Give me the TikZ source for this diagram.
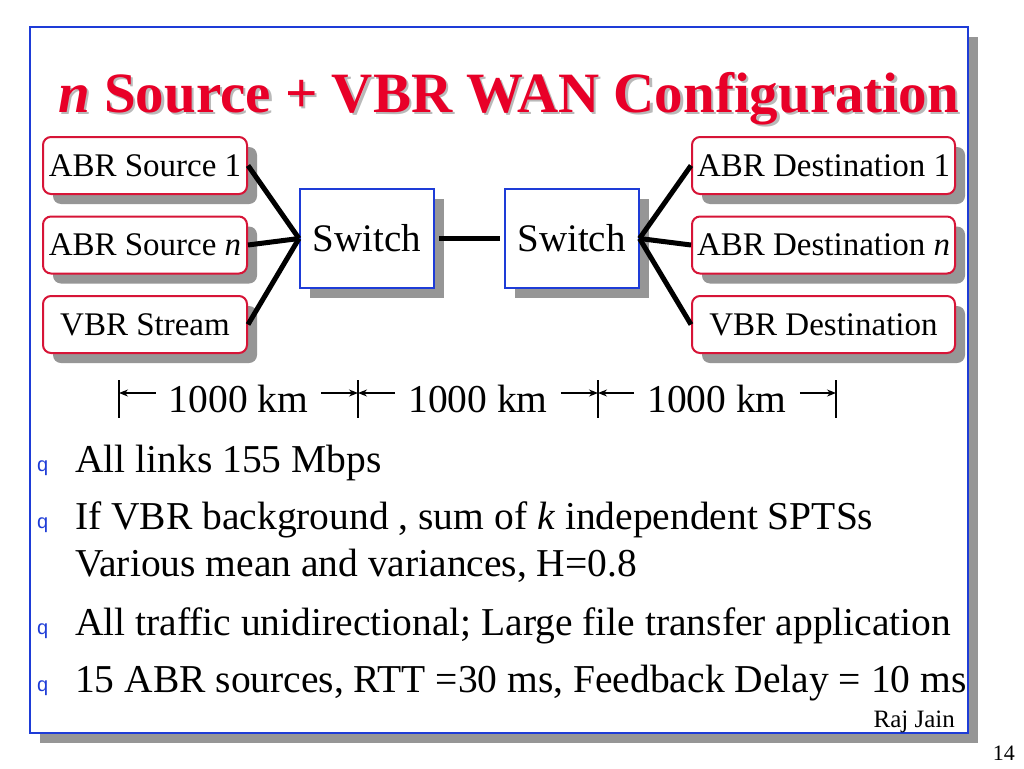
\documentclass[tikz,border=0pt]{standalone}
\usepackage{fontspec}
\setmainfont{Liberation Serif}
\newfontfamily\bulletfont{Liberation Sans}
\usetikzlibrary{positioning,arrows.meta,shadows}

\definecolor{frameblue}{RGB}{30,60,215}
\definecolor{boxred}{RGB}{215,20,55}
\definecolor{titlered}{RGB}{232,0,40}
\definecolor{shadowgray}{RGB}{150,150,150}
\definecolor{titleshade}{RGB}{185,185,185}

\begin{document}
\begin{tikzpicture}[
    x=1pt, y=-1pt,
    node distance = 20.5pt and 10pt,
    boxshadow/.style = {
        drop shadow={shadow xshift=10pt, shadow yshift=-10pt,
                     fill=shadowgray, opacity=1}
    },
    endbox/.style = {
        rectangle,
        draw=boxred,
        line width=2pt,
        fill=white,
        rounded corners=8pt,
        minimum height=57pt,
        inner sep=0pt,
        boxshadow,
        font=\fontsize{33}{38}\selectfont
    },
    switchbox/.style = {
        rectangle,
        draw=frameblue,
        line width=2pt,
        fill=white,
        minimum width=134pt,
        minimum height=99pt,
        inner sep=0pt,
        boxshadow,
        font=\fontsize{39}{44}\selectfont
    },
    titletext/.style = {
        anchor=base west,
        inner sep=0pt,
        font=\fontsize{57}{62}\selectfont\bfseries
    },
    itemtext/.style = {
        anchor=base west,
        inner sep=0pt,
        font=\fontsize{39.5}{46}\selectfont
    },
    bullet/.style = {
        anchor=base west,
        inner sep=0pt,
        text=frameblue,
        font=\bulletfont\fontsize{20}{20}\selectfont
    },
    lenlabel/.style = {
        anchor=base,
        inner xsep=13pt,
        inner ysep=0pt,
        font=\fontsize{39.5}{46}\selectfont
    },
    link/.style = {
        line width=5pt,
        draw=black
    },
    dimarrow/.style = {
        -{Stealth[length=9pt,width=7pt]},
        line width=1.3pt
    },
    tick/.style = {
        line width=1.3pt
    }
]
\useasboundingbox (0,0) rectangle (1024,768);

% slide frame
\draw [draw=frameblue, line width=2.5pt, fill=white, boxshadow] (30,27) rectangle (968,733);

% title
\node (titleshadow) [titletext, text=titleshade] at (60.5,114.5) {\textit{n} Source + VBR WAN Configuration};
\node (title) [titletext, text=titlered] at (58,112) {\textit{n} Source + VBR WAN Configuration};

% sources
\node (src1) [endbox, minimum width=204pt] at (145,165.5) {ABR Source 1};
\node (srcn) [endbox, minimum width=204pt, below=of src1] {ABR Source \textit{n}};
\node (vbrsrc) [endbox, minimum width=204pt, below=of srcn] {VBR Stream};

% switches
\node (sw1) [switchbox] at (367,238.5) {Switch};
\node (sw2) [switchbox] at (571.5,238.5) {Switch};

% destinations
\node (dst1) [endbox, minimum width=263pt] at (823.5,165.5) {ABR Destination 1};
\node (dstn) [endbox, minimum width=263pt, below=of dst1] {ABR Destination \textit{n}};
\node (vbrdst) [endbox, minimum width=263pt, below=of dstn] {VBR Destination};

\draw [link] (src1.east) -- (sw1.west);
\draw [link] (srcn.east) -- (sw1.west);
\draw [link] (vbrsrc.east) -- (sw1.west);
\draw [link, shorten <=4pt, shorten >=4pt] (sw1) -- (sw2);
\draw [link] (sw2.east) -- (dst1.west);
\draw [link] (sw2.east) -- (dstn.west);
\draw [link] (sw2.east) -- (vbrdst.west);

% distances
\coordinate (t0) at (119,393);
\coordinate (t1) at (358,393);
\coordinate (t2) at (598,393);
\coordinate (t3) at (836,393);
\foreach \t in {t0,t1,t2,t3}
    \draw [tick] ([yshift=13pt]\t) -- ([yshift=-25pt]\t);

\node (len1) [lenlabel] at (238.5,412) {1000 km};
\node (len2) [lenlabel] at (478,412) {1000 km};
\node (len3) [lenlabel] at (717,412) {1000 km};

\draw [dimarrow] (len1.west |- t0) -- (t0);
\draw [dimarrow] (len1.east |- t1) -- (t1);
\draw [dimarrow] (len2.west |- t1) -- (t1);
\draw [dimarrow] (len2.east |- t2) -- (t2);
\draw [dimarrow] (len3.west |- t2) -- (t2);
\draw [dimarrow] (len3.east |- t3) -- (t3);

% bullet list
\node (b1) [bullet] at (37,471) {q};
\node (item1) [itemtext] at (75,472) {All links 155 Mbps};
\node (b2) [bullet] at (37,528) {q};
\node (item2) [itemtext] at (75,529) {If VBR background , sum of \textit{k} independent SPTSs};
\node (item2b) [itemtext] at (75,576) {Various mean and variances, H=0.8};
\node (b3) [bullet] at (37,634) {q};
\node (item3) [itemtext] at (75,635) {All traffic unidirectional; Large file transfer application};
\node (b4) [bullet] at (37,691) {q};
\node (item4) [itemtext] at (75,692) {15 ABR sources, RTT =30 ms, Feedback Delay = 10 ms};

\node (author) [anchor=base east, inner sep=0pt, font=\fontsize{25}{28}\selectfont] at (955,727) {Raj Jain};
\node (page) [anchor=base east, inner sep=0pt, font=\fontsize{22}{24}\selectfont] at (1015,760) {14};

\end{tikzpicture}
\end{document}
